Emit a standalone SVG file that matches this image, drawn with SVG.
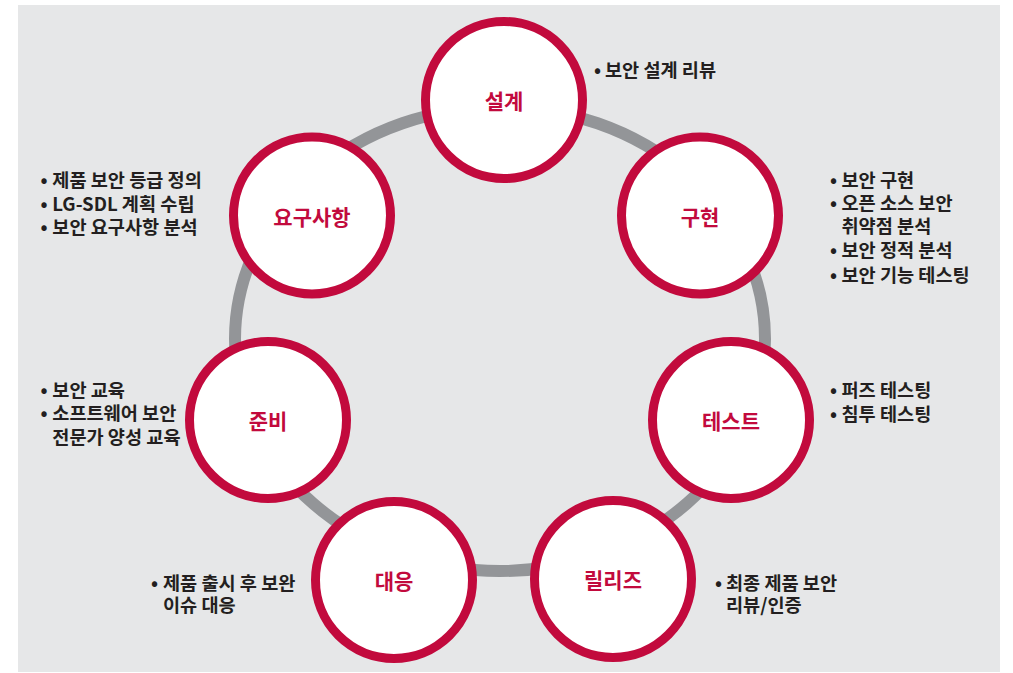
<svg xmlns="http://www.w3.org/2000/svg" width="1013" height="673" viewBox="0 0 1013 673">
<style>
.bg{fill:#e6e7e8}
.ring{fill:none;stroke:#939598;stroke-width:12}
.node circle{fill:#ffffff;stroke:#c20a3d;stroke-width:9}
.lbl{font-family:"Noto Sans CJK KR","Noto Sans",sans-serif;font-size:21px;font-weight:bold;fill:#c20a3d;text-anchor:middle;dominant-baseline:central}
.note{font-family:"Noto Sans CJK KR","Noto Sans",sans-serif;font-size:18.6px;font-weight:bold;fill:#231f20}
</style>
<rect width="1013" height="673" fill="#ffffff"/>
<rect class="bg" x="18" y="5" width="982" height="667"/>
<g id="connectors">
<ellipse class="ring" cx="500" cy="339" rx="265" ry="232"/>
</g>
<g id="node-design" class="node">
<circle cx="504" cy="100" r="78.5"/>
<text class="lbl" x="504" y="100">설계</text>
<text class="note" y="77"><tspan x="594">•</tspan><tspan x="605">보안 설계 리뷰</tspan></text>
</g>
<g id="node-impl" class="node">
<circle cx="700" cy="215.5" r="78.5"/>
<text class="lbl" x="700" y="215.5">구현</text>
<text class="note" y="186.5"><tspan x="830">•</tspan><tspan x="841.5">보안 구현</tspan></text>
<text class="note" y="209.5"><tspan x="830">•</tspan><tspan x="841.5">오픈 소스 보안</tspan></text>
<text class="note" x="841.5" y="233">취약점 분석</text>
<text class="note" y="257"><tspan x="830">•</tspan><tspan x="841.5">보안 정적 분석</tspan></text>
<text class="note" y="281.5"><tspan x="830">•</tspan><tspan x="841.5">보안 기능 테스팅</tspan></text>
</g>
<g id="node-req" class="node">
<circle cx="312" cy="215.5" r="78.5"/>
<text class="lbl" x="312" y="215.5">요구사항</text>
<text class="note" y="186.5"><tspan x="40.5">•</tspan><tspan x="52.3">제품 보안 등급 정의</tspan></text>
<text class="note" y="210.5"><tspan x="40.5">•</tspan><tspan x="52.3">LG-SDL 계획 수립</tspan></text>
<text class="note" y="233.5"><tspan x="40.5">•</tspan><tspan x="52.3">보안 요구사항 분석</tspan></text>
</g>
<g id="node-test" class="node">
<circle cx="731" cy="420" r="78.5"/>
<text class="lbl" x="731" y="420">테스트</text>
<text class="note" y="396.5"><tspan x="830">•</tspan><tspan x="841.5">퍼즈 테스팅</tspan></text>
<text class="note" y="420.5"><tspan x="830">•</tspan><tspan x="841.5">침투 테스팅</tspan></text>
</g>
<g id="node-prep" class="node">
<circle cx="268" cy="420" r="78.5"/>
<text class="lbl" x="268" y="420">준비</text>
<text class="note" y="396.5"><tspan x="40.5">•</tspan><tspan x="52.3">보안 교육</tspan></text>
<text class="note" y="419.5"><tspan x="40.5">•</tspan><tspan x="52.3">소프트웨어 보안</tspan></text>
<text class="note" x="52.3" y="443.5">전문가 양성 교육</text>
</g>
<g id="node-response" class="node">
<circle cx="394" cy="580" r="78.5"/>
<text class="lbl" x="394" y="580">대응</text>
<text class="note" y="589.5"><tspan x="151">•</tspan><tspan x="163">제품 출시 후 보완</tspan></text>
<text class="note" x="163" y="611.5">이슈 대응</text>
</g>
<g id="node-release" class="node">
<circle cx="613" cy="579" r="78.5"/>
<text class="lbl" x="613" y="579">릴리즈</text>
<text class="note" y="589.5"><tspan x="715">•</tspan><tspan x="726">최종 제품 보안</tspan></text>
<text class="note" x="726" y="611.5">리뷰/인증</text>
</g>
</svg>
